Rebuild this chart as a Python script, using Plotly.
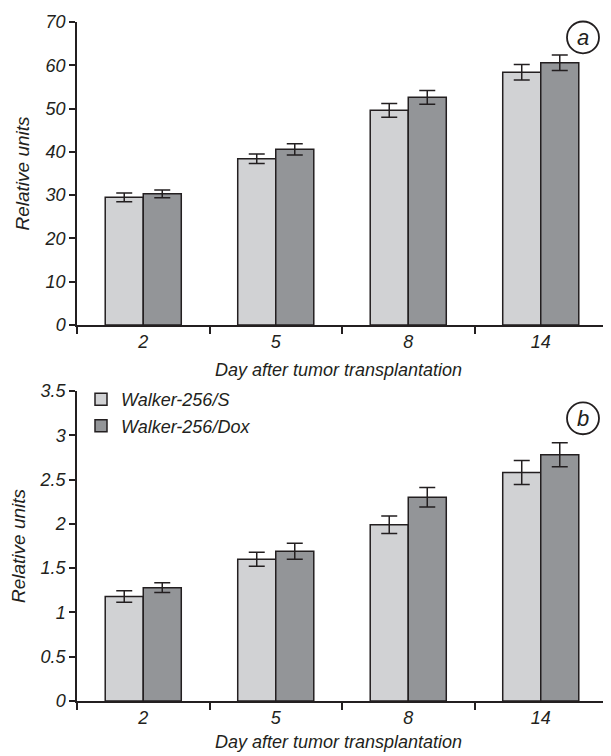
import plotly.graph_objects as go
from plotly.subplots import make_subplots

days = ["2", "5", "8", "14"]
series_names = ["Walker-256/S", "Walker-256/Dox"]

# Panel a
a_s = [29.5, 38.4, 49.6, 58.4]
a_s_err = [1.0, 1.1, 1.6, 1.8]
a_dox = [30.3, 40.6, 52.6, 60.6]
a_dox_err = [0.9, 1.3, 1.6, 1.8]

# Panel b
b_s = [1.18, 1.60, 1.99, 2.58]
b_s_err = [0.066, 0.08, 0.10, 0.135]
b_dox = [1.28, 1.69, 2.30, 2.78]
b_dox_err = [0.056, 0.09, 0.11, 0.135]

a_ticks = [0, 10, 20, 30, 40, 50, 60, 70]
b_ticks = [0, 0.5, 1, 1.5, 2, 2.5, 3, 3.5]
b_ticktext = ["0", "0.5", "1", "1.5", "2", "2.5", "3", "3.5"]

x_title = "Day after tumor transplantation"
y_title = "Relative units"

INK = "#231f20"
C_S = "#d1d2d4"
C_DOX = "#939598"
FONT = "Liberation Sans, Arial, sans-serif"

# page body has an 8px default margin
OFF = 8
W, H = 611, 756
# plot area in window pixels
X0, X1, Y0, Y1 = 77, 607, 18, 700.7
plot_h = Y1 - Y0
top_dom = [(Y1 - 322.7) / plot_h, 1.0]
bot_dom = [0.0, (Y1 - 389) / plot_h]


def px(xp):
    return (xp - X0) / (X1 - X0)


def py(yp):
    return (Y1 - yp) / plot_h


fig = make_subplots(rows=2, cols=1)

err_style = dict(type="data", visible=True, color=INK, thickness=1.5, width=8)
line_style = dict(color=INK, width=1.5)

for row, s, se, d, de in [(1, a_s, a_s_err, a_dox, a_dox_err), (2, b_s, b_s_err, b_dox, b_dox_err)]:
    fig.add_trace(go.Bar(x=days, y=s, name=series_names[0], marker=dict(color=C_S, line=line_style),
                         error_y=dict(array=se, **err_style), showlegend=(row == 2)), row=row, col=1)
    fig.add_trace(go.Bar(x=days, y=d, name=series_names[1], marker=dict(color=C_DOX, line=line_style),
                         error_y=dict(array=de, **err_style), showlegend=(row == 2)), row=row, col=1)

xaxis_common = dict(showline=True, linecolor=INK, linewidth=1.5, ticks="outside", tickson="boundaries",
                    ticklen=7, tickwidth=1.5, tickcolor=INK, showgrid=False, zeroline=False,
                    tickfont=dict(size=18, color=INK, style="italic"), type="category")
yaxis_common = dict(showline=True, linecolor=INK, linewidth=1.5, ticks="outside", ticklen=6, tickwidth=1.5,
                    tickcolor=INK, showgrid=False, zeroline=False,
                    tickfont=dict(size=18, color=INK, style="italic"),
                    title=dict(text=y_title, font=dict(size=19, color=INK, style="italic"), standoff=10))

fig.update_layout(
    width=W - OFF, height=H - OFF,
    margin=dict(l=X0 - OFF, r=W - X1, t=Y0 - OFF, b=round(H - Y1)),
    paper_bgcolor="white", plot_bgcolor="white",
    font=dict(family=FONT, color=INK),
    barmode="group", bargap=0.426, bargroupgap=0,
    xaxis=dict(domain=[0, 1], anchor="y", **xaxis_common),
    xaxis2=dict(domain=[0, 1], anchor="y2", **xaxis_common),
    yaxis=dict(domain=top_dom, anchor="x", range=[0, 70], tickvals=a_ticks, **yaxis_common),
    yaxis2=dict(domain=bot_dom, anchor="x2", range=[0, 3.5], tickvals=b_ticks, ticktext=b_ticktext,
                **yaxis_common),
    legend=dict(x=px(81), y=py(379), xanchor="left", yanchor="top", bgcolor="rgba(0,0,0,0)",
                font=dict(size=18, color=INK, style="italic"), tracegroupgap=0, itemwidth=30),
    showlegend=True,
)

# x-axis titles
for yp in [368, 742]:
    fig.add_annotation(text=x_title, xref="paper", yref="paper", x=px(338), y=py(yp),
                       xanchor="center", yanchor="middle", showarrow=False,
                       font=dict(size=18, color=INK, style="italic"))

# circled panel letters
for letter, cx, cy in [("a", 583, 33.5), ("b", 583, 416.5)]:
    r = 16
    fig.add_shape(type="circle", xref="paper", yref="paper",
                  x0=px(cx - r), x1=px(cx + r), y0=py(cy + r), y1=py(cy - r),
                  line=dict(color=INK, width=1.8), fillcolor="white")
    fig.add_annotation(text=letter, xref="paper", yref="paper", x=px(cx), y=py(cy),
                       xanchor="center", yanchor="middle", showarrow=False,
                       font=dict(size=22, color=INK, style="italic"))

fig.write_html("out.html")
